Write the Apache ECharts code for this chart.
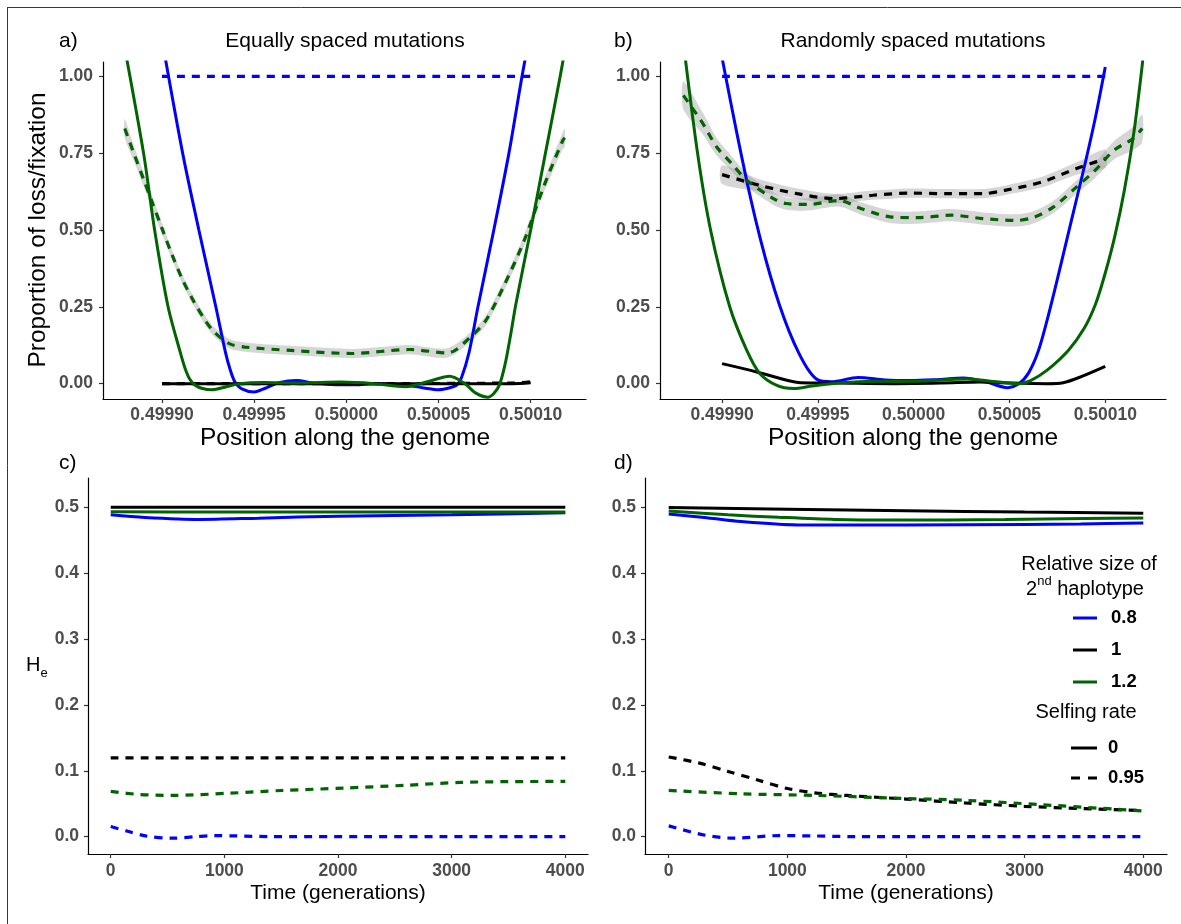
<!DOCTYPE html>
<html>
<head>
<meta charset="utf-8">
<script src="https://cdn.jsdelivr.net/npm/echarts@6/dist/echarts.min.js"></script>
<style>html,body{margin:0;padding:0;background:#fff}#chart{width:1181px;height:924px}</style>
</head>
<body>
<div id="chart"></div>
<script>
// ---------------- tick labels ----------------
const positionTicks = [0.49990, 0.49995, 0.50000, 0.50005, 0.50010];
const proportionTicks = [0, 0.25, 0.5, 0.75, 1];
const timeTicks = [0, 1000, 2000, 3000, 4000];
const heTicks = [0, 0.1, 0.2, 0.3, 0.4, 0.5];

// ---------------- panel a: equally spaced mutations ----------------
const aBlueSolid = [[0.49990,1.12],[0.4999112,0.75],[0.49992,0.50],[0.4999292,0.25],[0.4999345,0.10],[0.499937,0.045],[0.4999395,0.006],[0.499943,-0.016],[0.49995,-0.027],[0.499956,-0.015],[0.499964,0.004],[0.499973,0.010],[0.499982,0.002],[0.499992,-0.003],[0.500005,-0.004],[0.500015,0.0],[0.50003,-0.003],[0.500042,-0.014],[0.50005,-0.02],[0.500057,-0.012],[0.50006,-0.004],[0.5000625,0.02],[0.5000665,0.10],[0.5000714,0.25],[0.50008,0.50],[0.5000882,0.75],[0.5000953,1.00],[0.5001,1.15]];
const aBlueDashed = [[0.49990,1.0],[0.50010,1.0]];
const aBlackSolid = [[0.49990,0.0],[0.50000,0.0],[0.50009,0.0],[0.50010,0.003]];
const aBlackDashed = [[0.49990,0.0],[0.50000,0.0],[0.500092,0.002],[0.50010,0.006]];
const aGreenSolid = [[0.499878,1.15],[0.49989,0.75],[0.499896,0.50],[0.4999033,0.25],[0.49991,0.10],[0.4999125,0.05],[0.499915,0.015],[0.499918,-0.005],[0.499922,-0.016],[0.499927,-0.02],[0.499935,-0.01],[0.499942,0.0],[0.499955,0.004],[0.499975,0.002],[0.499997,0.005],[0.500015,0.0],[0.500032,-0.01],[0.500045,0.008],[0.500056,0.024],[0.5000643,0.0],[0.50007,-0.03],[0.5000768,-0.044],[0.50008,-0.032],[0.500083,-0.005],[0.500086,0.06],[0.500089,0.155],[0.500092,0.26],[0.5001,0.50],[0.500108,0.75],[0.500116,1.00],[0.500122,1.20]];
const aGreenDashed = [[0.4998798,0.83],[0.499885,0.745],[0.49989,0.665],[0.499895,0.585],[0.4999,0.505],[0.4999054,0.42],[0.499911,0.34],[0.499917,0.27],[0.499923,0.21],[0.499928,0.17],[0.4999365,0.13],[0.499945,0.119],[0.49997,0.108],[0.500003,0.098],[0.500034,0.111],[0.500055,0.10],[0.5000674,0.152],[0.5000757,0.206],[0.500086,0.325],[0.5000965,0.466],[0.500107,0.64],[0.5001173,0.79],[0.5001185,0.80]];
const aGreenDashedCI = [0.03,0.025,0.022,0.02,0.018,0.016,0.015,0.015,0.015,0.015,0.015,0.015,0.015,0.015,0.015,0.015,0.015,0.016,0.017,0.018,0.02,0.027,0.03];

// ---------------- panel b: randomly spaced mutations ----------------
const bBlueSolid = [[0.49990,1.06],[0.499905,0.90],[0.49991,0.745],[0.499915,0.60],[0.49992,0.47],[0.499925,0.355],[0.49993,0.255],[0.499935,0.17],[0.49994,0.10],[0.499945,0.045],[0.49995,0.012],[0.499957,0.006],[0.499971,0.02],[0.499985,0.012],[0.499998,0.01],[0.500012,0.013],[0.500026,0.018],[0.500038,0.005],[0.500049,-0.013],[0.500055,0.0],[0.50006,0.035],[0.500065,0.105],[0.50007,0.215],[0.500075,0.34],[0.50008,0.47],[0.500085,0.60],[0.50009,0.73],[0.500095,0.87],[0.50010,1.03]];
const bBlueDashed = [[0.49990,1.0],[0.50010,1.0]];
const bBlackSolid = [[0.49990,0.065],[0.4999181,0.038],[0.4999338,0.011],[0.499941,0.003],[0.49996,0.002],[0.49999,0.0],[0.500015,0.002],[0.5000346,0.005],[0.50005,0.002],[0.5000695,0.0],[0.500078,0.003],[0.5000868,0.021],[0.50010,0.056]];
const bBlackDashed = [[0.49990,0.68],[0.4999196,0.645],[0.4999393,0.618],[0.499959,0.602],[0.4999787,0.613],[0.4999983,0.62],[0.500018,0.618],[0.500036,0.618],[0.5000475,0.629],[0.500067,0.656],[0.500085,0.70],[0.50010,0.732]];
const bBlackDashedCI = [0.03,0.02,0.017,0.015,0.015,0.015,0.015,0.015,0.015,0.017,0.02,0.03];
const bGreenSolid = [[0.49988,1.10],[0.4998872,0.75],[0.499894,0.50],[0.499904,0.25],[0.4999129,0.108],[0.4999198,0.032],[0.4999286,-0.006],[0.4999372,-0.016],[0.499947,-0.008],[0.499957,0.0],[0.499975,0.007],[0.5,0.008],[0.500028,0.015],[0.50004,0.008],[0.500055,0.0],[0.500061,0.01],[0.5000695,0.043],[0.5000807,0.108],[0.500089,0.18],[0.500095,0.26],[0.50010,0.36],[0.500105,0.48],[0.50011,0.63],[0.500115,0.82],[0.500119,1.02],[0.50012,1.08]];
const bGreenDashed = [[0.4998798,0.938],[0.49989,0.846],[0.4998972,0.77],[0.499905,0.716],[0.4999129,0.662],[0.4999268,0.602],[0.4999334,0.586],[0.499945,0.583],[0.499961,0.596],[0.4999728,0.569],[0.4999885,0.542],[0.500002,0.54],[0.50002,0.548],[0.500036,0.537],[0.5000535,0.531],[0.500063,0.542],[0.500073,0.575],[0.500085,0.64],[0.5000947,0.694],[0.5001045,0.759],[0.5001144,0.797],[0.5001193,0.83]];
const bGreenDashedCI = [0.045,0.035,0.028,0.024,0.022,0.02,0.02,0.02,0.02,0.02,0.02,0.02,0.02,0.02,0.02,0.02,0.02,0.022,0.025,0.03,0.038,0.045];

// ---------------- panel c: He, equally spaced ----------------
const cBlackSolid = [[0,0.5005],[4000,0.5005]];
const cGreenSolid = [[0,0.4938],[1000,0.4932],[2000,0.4932],[3000,0.4933],[4000,0.4934]];
const cBlueSolid = [[0,0.489],[300,0.485],[780,0.482],[1300,0.484],[2000,0.487],[3000,0.489],[4000,0.492]];
const cBlackDashed = [[0,0.1195],[4000,0.1195]];
const cGreenDashed = [[0,0.0686],[250,0.064],[544,0.0625],[1050,0.066],[1500,0.070],[2064,0.0738],[2600,0.078],[3077,0.0823],[3500,0.0835],[4000,0.0838]];
const cBlueDashed = [[0,0.0152],[150,0.008],[307,0.001],[544,-0.0025],[750,0.0],[915,0.0015],[1100,0.001],[1390,0.0],[4000,0.0]];

// ---------------- panel d: He, randomly spaced ----------------
const dBlackSolid = [[0,0.5],[1000,0.4975],[2000,0.4952],[3000,0.4932],[4000,0.4915]];
const dGreenSolid = [[0,0.495],[500,0.489],[928,0.4853],[1400,0.482],[1882,0.481],[2835,0.482],[3500,0.4835],[4000,0.4843]];
const dBlueSolid = [[0,0.4904],[300,0.485],[610,0.4787],[1087,0.4737],[2000,0.4735],[3000,0.4745],[3471,0.4752],[4000,0.4767]];
const dBlackDashed = [[0,0.121],[250,0.112],[500,0.099],[750,0.086],[1000,0.073],[1250,0.066],[1500,0.0625],[2000,0.057],[2500,0.051],[3000,0.046],[3500,0.0425],[4000,0.0396]];
const dGreenDashed = [[0,0.0701],[610,0.065],[1246,0.0625],[1882,0.0585],[2517,0.0549],[3153,0.0483],[4000,0.039]];
const dBlueDashed = [[0,0.0163],[292,0.0026],[547,-0.0025],[928,0.0015],[1200,0.001],[1564,0.0],[4000,0.0]];

// ---------------- legend ----------------
const sizeLevels = ['0.8', '1', '1.2'];
const selfingLevels = ['0', '0.95'];

// ---------------- drawing ----------------
const FONT = '"Liberation Sans", Arial, Helvetica, sans-serif';
const BLUE = '#0000ff', BLACK = '#000000', GREEN = '#006400';
const RIBBON = 'rgba(153,153,153,0.4)';
const DASH = [8, 7];
const sizeColors = [BLUE, BLACK, GREEN];

function lineSeries(idx, data, color, dashed, z) {
  return {
    type: 'line', xAxisIndex: idx, yAxisIndex: idx, data: data,
    smooth: 0.3, symbol: 'none', showSymbol: false, silent: true, z: z,
    lineStyle: { color: color, width: dashed ? 3.2 : 3, type: dashed ? DASH : 'solid', cap: 'butt' }
  };
}
// confidence ribbon drawn as a polygon through the axis scales
function ribbonSeries(idx, data, hw) {
  return {
    type: 'custom', xAxisIndex: idx, yAxisIndex: idx, silent: true, z: 1,
    data: [data[Math.floor(data.length / 2)]],
    renderItem: function (params, api) {
      const up = data.map((p, i) => api.coord([p[0], p[1] + hw[i]]));
      const lo = data.map((p, i) => api.coord([p[0], p[1] - hw[i]])).reverse();
      return { type: 'polygon', shape: { points: up.concat(lo), smooth: 0.25 },
        style: { fill: RIBBON, stroke: null } };
    }
  };
}

function xAxisDef(idx, min, max, ticks, fmt, margin) {
  return {
    type: 'value', gridIndex: idx, min: min, max: max, position: 'bottom',
    axisLine: { show: true, onZero: false, lineStyle: { color: '#000', width: 1.2 } },
    axisTick: { show: true, length: 4, customValues: ticks, lineStyle: { color: '#333', width: 1.2 } },
    axisLabel: { customValues: ticks, formatter: fmt, color: '#4d4d4d', fontWeight: 'bold',
      fontSize: 17.5, fontFamily: FONT, margin: margin },
    splitLine: { show: false }
  };
}
function yAxisDef(idx, min, max, ticks, fmt, margin) {
  return {
    type: 'value', gridIndex: idx, min: min, max: max, position: 'left',
    axisLine: { show: true, onZero: false, lineStyle: { color: '#000', width: 1.2 } },
    axisTick: { show: true, length: 4, customValues: ticks, lineStyle: { color: '#333', width: 1.2 } },
    axisLabel: { customValues: ticks, formatter: fmt, color: '#4d4d4d', fontWeight: 'bold',
      fontSize: 17.5, fontFamily: FONT, margin: margin },
    splitLine: { show: false }
  };
}

const fmtPos = v => Number(v).toFixed(5);
const fmtProp = v => Number(v).toFixed(2);
const fmtTime = v => String(Math.round(v));
const fmtHe = v => Number(v).toFixed(1);

const series = [];
// panel a
series.push(ribbonSeries(0, aGreenDashed, aGreenDashedCI));
series.push(lineSeries(0, aBlueSolid, BLUE, false, 3));
series.push(lineSeries(0, aBlueDashed, BLUE, true, 3));
series.push(lineSeries(0, aBlackSolid, BLACK, false, 4));
series.push(lineSeries(0, aBlackDashed, BLACK, true, 4));
series.push(lineSeries(0, aGreenSolid, GREEN, false, 5));
series.push(lineSeries(0, aGreenDashed, GREEN, true, 5));
// panel b
series.push(ribbonSeries(1, bBlackDashed, bBlackDashedCI));
series.push(ribbonSeries(1, bGreenDashed, bGreenDashedCI));
series.push(lineSeries(1, bBlueSolid, BLUE, false, 3));
series.push(lineSeries(1, bBlueDashed, BLUE, true, 3));
series.push(lineSeries(1, bBlackSolid, BLACK, false, 4));
series.push(lineSeries(1, bBlackDashed, BLACK, true, 4));
series.push(lineSeries(1, bGreenSolid, GREEN, false, 5));
series.push(lineSeries(1, bGreenDashed, GREEN, true, 5));
// panel c
series.push(lineSeries(2, cBlueSolid, BLUE, false, 3));
series.push(lineSeries(2, cBlueDashed, BLUE, true, 3));
series.push(lineSeries(2, cBlackSolid, BLACK, false, 4));
series.push(lineSeries(2, cBlackDashed, BLACK, true, 4));
series.push(lineSeries(2, cGreenSolid, GREEN, false, 5));
series.push(lineSeries(2, cGreenDashed, GREEN, true, 5));
// panel d
series.push(lineSeries(3, dBlueSolid, BLUE, false, 3));
series.push(lineSeries(3, dBlueDashed, BLUE, true, 3));
series.push(lineSeries(3, dBlackSolid, BLACK, false, 4));
series.push(lineSeries(3, dBlackDashed, BLACK, true, 4));
series.push(lineSeries(3, dGreenSolid, GREEN, false, 5));
series.push(lineSeries(3, dGreenDashed, GREEN, true, 5));

function txt(x, y, text, size, opts) {
  const o = opts || {};
  return {
    type: 'text', x: x, y: y, rotation: o.rotation || 0, z: 10, silent: true,
    style: Object.assign({
      text: text, fontSize: size, fontFamily: FONT, fill: o.fill || '#000',
      fontWeight: o.bold ? 'bold' : 'normal',
      align: o.align || 'center', verticalAlign: 'middle'
    }, o.style || {})
  };
}
function seg(x1, x2, y, color, dashed) {
  return { type: 'line', z: 10, silent: true, shape: { x1: x1, y1: y, x2: x2, y2: y },
    style: { stroke: color, lineWidth: 3, lineDash: dashed ? [9, 8] : null } };
}

const graphics = [
  // outer frame edges
  { type: 'line', silent: true, shape: { x1: 7, y1: 7.5, x2: 1181, y2: 7.5 }, style: { stroke: '#1f1fff', lineWidth: 1 } },
  { type: 'line', silent: true, shape: { x1: 7.5, y1: 7, x2: 7.5, y2: 924 }, style: { stroke: '#1f1fff', lineWidth: 1 } },
  // panel labels and titles
  txt(59, 41, 'a)', 21, { align: 'left' }),
  txt(345, 41, 'Equally spaced mutations', 21),
  txt(614, 41, 'b)', 21, { align: 'left' }),
  txt(913, 41, 'Randomly spaced mutations', 21),
  txt(59, 463, 'c)', 21, { align: 'left' }),
  txt(614, 463, 'd)', 21, { align: 'left' }),
  // axis titles
  txt(38, 230, 'Proportion of loss/fixation', 24.5, { rotation: Math.PI / 2 }),
  txt(345, 438, 'Position along the genome', 24.5),
  txt(913, 438, 'Position along the genome', 24.5),
  txt(338, 893, 'Time (generations)', 21),
  txt(906, 893, 'Time (generations)', 21),
  {
    type: 'text', x: 26, y: 665, z: 10, silent: true,
    style: { text: '{h|H}{s|e}', fontFamily: FONT, align: 'left', verticalAlign: 'middle',
      rich: { h: { fontSize: 20, fontFamily: FONT, lineHeight: 30, verticalAlign: 'middle' },
              s: { fontSize: 13, fontFamily: FONT, lineHeight: 30, verticalAlign: 'bottom' } } }
  },
  // legend titles
  txt(1089, 564, 'Relative size of', 20),
  {
    type: 'text', x: 1085, y: 589, z: 10, silent: true,
    style: { text: '{m|2}{p|nd}{m| haplotype}', fontFamily: FONT, align: 'center', verticalAlign: 'middle',
      rich: { m: { fontSize: 20, fontFamily: FONT, lineHeight: 28, verticalAlign: 'middle' },
              p: { fontSize: 13, fontFamily: FONT, lineHeight: 28, verticalAlign: 'top' } } }
  },
  txt(1086, 712, 'Selfing rate', 20)
];
const sizeY = [618, 650, 682];
sizeLevels.forEach((lab, i) => {
  graphics.push(seg(1073, 1097, sizeY[i], sizeColors[i], false));
  graphics.push(txt(1111, sizeY[i], lab, 18.5, { align: 'left', bold: true }));
});
const selfY = [748, 778];
selfingLevels.forEach((lab, i) => {
  graphics.push(seg(1071, 1097, selfY[i], BLACK, i === 1));
  graphics.push(txt(1108, selfY[i], lab, 18.5, { align: 'left', bold: true }));
});

const option = {
  animation: false,
  backgroundColor: '#ffffff',
  grid: [
    { left: 103, top: 62, width: 483, height: 337 },
    { left: 660, top: 62, width: 506, height: 337 },
    { left: 88, top: 478, width: 500, height: 376 },
    { left: 645, top: 478, width: 522, height: 376 }
  ],
  xAxis: [
    xAxisDef(0, 0.499868, 0.50013, positionTicks, fmtPos, 7),
    xAxisDef(1, 0.4998676, 0.5001317, positionTicks, fmtPos, 7),
    xAxisDef(2, -200, 4200, timeTicks, fmtTime, 8),
    xAxisDef(3, -200, 4200, timeTicks, fmtTime, 8)
  ],
  yAxis: [
    yAxisDef(0, -0.05, 1.0465, proportionTicks, fmtProp, 10),
    yAxisDef(1, -0.05, 1.0465, proportionTicks, fmtProp, 10),
    yAxisDef(2, -0.0265, 0.545, heTicks, fmtHe, 9),
    yAxisDef(3, -0.0265, 0.545, heTicks, fmtHe, 9)
  ],
  series: series,
  graphic: graphics
};

const chart = echarts.init(document.getElementById('chart'), null, { renderer: 'canvas' });
chart.setOption(option);
</script>
</body>
</html>
